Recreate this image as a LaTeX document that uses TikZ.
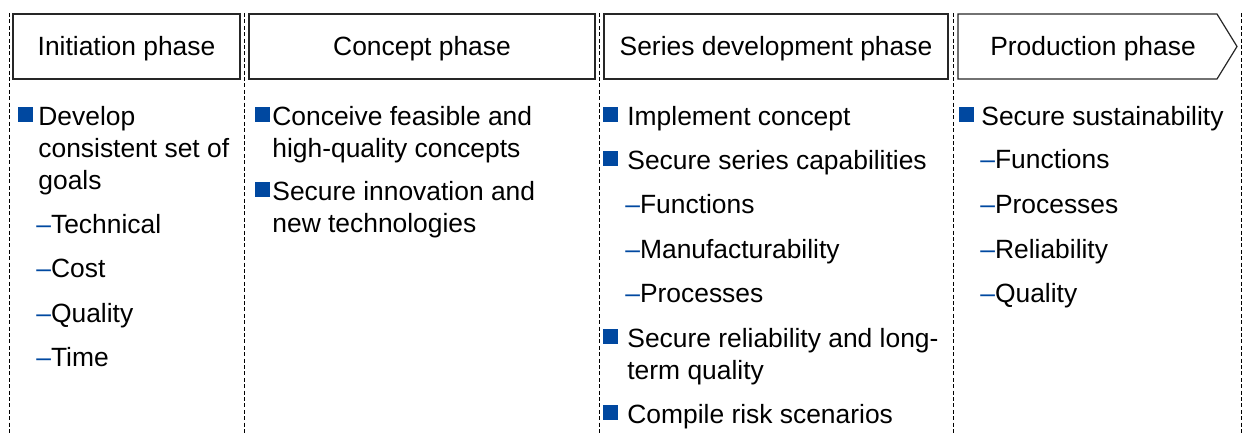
\documentclass[tikz,border=0pt]{standalone}
\usepackage{fontspec}
\setmainfont{Liberation Sans}
\definecolor{bulletblue}{RGB}{0,72,160}
\tikzset{
  phase/.style={draw=black!85,line width=0.6pt,inner sep=0pt,text height=10pt,text depth=1.5pt},
  phasename/.style={inner sep=0pt,text height=10pt,text depth=1.5pt},
  bullet/.style={fill=bulletblue,inner sep=0pt,minimum size=7.5pt},
  item/.style={inner sep=0pt,anchor=base west,align=left},
  sep/.style={line width=0.5pt,dash pattern=on 2pt off 1.2pt}
}
\newcommand{\subdash}{{\color{bulletblue}\textendash}}
\begin{document}
\begin{tikzpicture}[x=0.5pt,y=-0.5pt,font=\fontsize{13.2}{16}\selectfont]
\useasboundingbox (0,0) rectangle (1243,434);
% phase separators
\foreach \x in {9.5,244,599,953,1241.5}
  \draw[sep] (\x,13) -- (\x,434);
% phase headers
\node[phase,minimum width=113.5pt,minimum height=32.5pt] (init) at (126.5,46.5) {Initiation phase};
\node[phase,minimum width=173pt,minimum height=32.5pt] (concept) at (422,46.5) {Concept phase};
\node[phase,minimum width=172pt,minimum height=32.5pt] (series) at (776,46.5) {Series development phase};
\draw[phase] (958,14) -- (1217,14) -- (1237,46.5) -- (1217,79) -- (958,79) -- cycle;
\node[phasename] (prod) at (1093,46.5) {Production phase};
% initiation (multi-line items are placed by their last baseline)
\node[bullet] (b11) at (25.5,114) {};
\node[item] (t11) at (38,189) {Develop\\consistent set of\\goals};
\node[item] (t12) at (36,233) {\subdash Technical};
\node[item] (t13) at (36,277.5) {\subdash Cost};
\node[item] (t14) at (36,322) {\subdash Quality};
\node[item] (t15) at (36,366.5) {\subdash Time};
% concept
\node[bullet] (b21) at (262.8,114.5) {};
\node[item] (t21) at (272,157) {Conceive feasible and\\high-quality concepts};
\node[bullet] (b22) at (262.8,189.5) {};
\node[item] (t22) at (272,232) {Secure innovation and\\new technologies};
% series development
\node[bullet] (b31) at (610,114) {};
\node[item] (t31) at (627,125) {Implement concept};
\node[bullet] (b32) at (610,158) {};
\node[item] (t32) at (627,169) {Secure series capabilities};
\node[item] (t33) at (625,213.5) {\subdash Functions};
\node[item] (t34) at (625,258) {\subdash Manufacturability};
\node[item] (t35) at (625,302.5) {\subdash Processes};
\node[bullet] (b33) at (610,336) {};
\node[item] (t36) at (627,379) {Secure reliability and long-\\term quality};
\node[bullet] (b34) at (610,412) {};
\node[item] (t37) at (627,423) {Compile risk scenarios};
% production
\node[bullet] (b41) at (966,114) {};
\node[item] (t41) at (981,125) {Secure sustainability};
\node[item] (t42) at (980,168.5) {\subdash Functions};
\node[item] (t43) at (980,213) {\subdash Processes};
\node[item] (t44) at (980,258) {\subdash Reliability};
\node[item] (t45) at (980,302.5) {\subdash Quality};
\end{tikzpicture}
\end{document}
